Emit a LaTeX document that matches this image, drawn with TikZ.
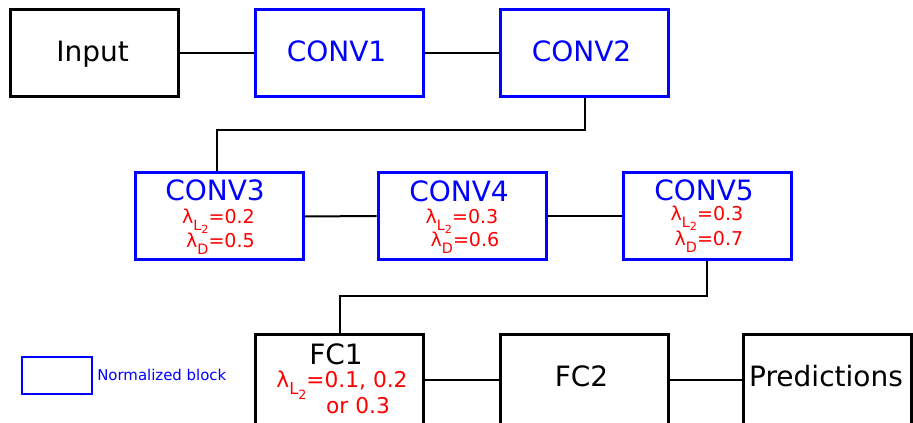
\documentclass[tikz,border=0pt]{standalone}
\usepackage{fontspec}
\setmainfont{DejaVu Sans}
\usetikzlibrary{calc}
\definecolor{nblue}{RGB}{0,0,255}
\definecolor{nred}{RGB}{255,0,0}
% regularisation symbols with nested subscripts
\newcommand{\lamL}{λ\raisebox{-0.32em}{\scalebox{0.75}{L\raisebox{-0.25em}{\scalebox{0.78}{2}}}}}
\newcommand{\lamD}{λ\raisebox{-0.32em}{\scalebox{0.75}{D}}}

\begin{document}
\begin{tikzpicture}[x=0.75pt,y=-0.75pt,
  blk/.style={draw=black, line width=2.25pt, minimum width=126pt, minimum height=65.25pt, inner sep=0pt},
  nblk/.style={blk, draw=nblue},
  fcblk/.style={blk, minimum height=67.5pt},
  ttl/.style={anchor=base, font=\fontsize{21}{25}\selectfont, inner sep=0pt},
  reg/.style={anchor=base, text=nred, font=\fontsize{14.3}{17}\selectfont, inner sep=0pt},
  regfc/.style={reg, font=\fontsize{16.3}{19}\selectfont},
  wire/.style={draw=black, line width=1.5pt}]
\useasboundingbox (0,0) rectangle (913,423);
\clip (0,0) rectangle (913,423);

% first row
\node[blk]  (in) at (94.5,53) {};
\node[nblk] (c1) at (339.5,53) {};
\node[nblk] (c2) at (584.5,53) {};
\node[ttl] (tin) at ($(in.center)+(-2,9)$) {Input};
\node[ttl, text=nblue] (tc1) at ($(c1.center)+(-3,9)$) {CONV1};
\node[ttl, text=nblue] (tc2) at ($(c2.center)+(-3,9)$) {CONV2};

% second row
\node[nblk] (c3) at (219,216.5) {};
\node[nblk] (c4) at (462,216) {};
\node[nblk] (c5) at (707,216) {};
\node[ttl, text=nblue] (tc3) at (215,201) {CONV3};
\node[ttl, text=nblue] (tc4) at (459,202) {CONV4};
\node[ttl, text=nblue] (tc5) at (704,201) {CONV5};
\node[reg] (r3a) at (218.5,224) {\lamL=0.2};
\node[reg] (r3b) at (220.5,248) {\lamD=0.5};
\node[reg] (r4a) at (462,224) {\lamL=0.3};
\node[reg] (r4b) at (465,247) {\lamD=0.6};
\node[reg] (r5a) at (707,221) {\lamL=0.3};
\node[reg] (r5b) at (709,246) {\lamD=0.7};

% third row
\node[fcblk] (fc1) at (339.5,380) {};
\node[fcblk] (fc2) at (584.5,380) {};
\node[fcblk] (pr)  at (827.5,380) {};
\node[ttl] (tfc1) at (336,365) {FC1};
\node[regfc] (rfa) at (342,388) {\lamL=0.1, 0.2};
\node[regfc] (rfb) at (358,414) {or 0.3};
\node[ttl] (tfc2) at ($(fc2.center)+(-3,7)$) {FC2};
\node[ttl] (tpr)  at ($(pr.center)+(-1.5,7)$) {Predictions};

% legend
\node[draw=nblue, line width=0.9pt, minimum width=52.5pt, minimum height=27.75pt, inner sep=0pt] (leg) at (57,375.5) {};
\node[anchor=base west, text=nblue, font=\fontsize{11.2}{13}\selectfont, inner sep=0pt] (legt) at (97,381) {Normalized block};

% connections
\coordinate (j1) at (400,130);
\coordinate (j2) at (520,296);
\coordinate (c3in) at ($(c3.north)+(-2,0)$);
\draw[wire] (in.east) -- (c1.west);
\draw[wire] (c1.east) -- (c2.west);
\draw[wire] (c2.south) |- (j1) -| (c3in);
\draw[wire] (c3.east) -- (c4.west);
\draw[wire] (c4.east) -- (c5.west);
\draw[wire] (c5.south) |- (j2) -| (fc1.north);
\draw[wire] (fc1.east) -- (fc2.west);
\draw[wire] (fc2.east) -- (pr.west);
\end{tikzpicture}
\end{document}
